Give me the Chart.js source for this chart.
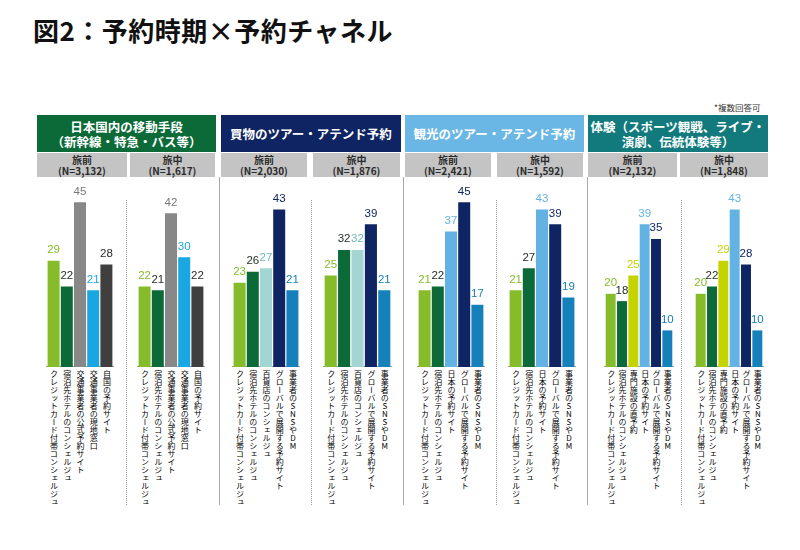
<!DOCTYPE html>
<html>
<head>
<meta charset="utf-8">
<script src="https://cdn.jsdelivr.net/npm/chart.js@4.4.0/dist/chart.umd.min.js"></script>
<style>
body { margin: 0; background: #fff; font-family: "Noto Sans CJK JP", "Noto Sans", sans-serif; }
#wrap { position: relative; width: 800px; height: 550px; overflow: hidden; }
.abs { position: absolute; }
.title { left: 33px; top: 12px; font-size: 26px; font-weight: bold; color: #111; line-height: 36px; letter-spacing: 0.5px; }
.note { left: 714px; top: 101px; font-size: 8.5px; color: #333; }
.head { display: flex; align-items: center; justify-content: center; text-align: center;
        color: #fff; font-weight: bold; font-size: 12.5px; line-height: 15px; }
.sub { display: flex; align-items: center; justify-content: center; text-align: center;
       background: #c4c4c4; color: #2a2a2a; font-weight: bold; font-size: 10px; line-height: 11.5px; }
.vlab { writing-mode: vertical-rl; text-orientation: upright; font-size: 8px; line-height: 10px;
        width: 10px; color: #000; font-weight: normal; white-space: nowrap; }
.sep { width: 0; border-left: 1px solid #a8a8a8; }
.dot { width: 0; border-left: 1.5px dotted #999; }
</style>
</head>
<body>
<div id="wrap"></div>
<script>
// カテゴリ
const groupTitles = ['日本国内の移動手段<br>（新幹線・特急・バス等）', '買物のツアー・アテンド予約',
                     '観光のツアー・アテンド予約', '体験（スポーツ観戦、ライブ・<br>演劇、伝統体験等）'];
const groupColors = ['#0b6a37', '#0f2462', '#6ab6e4', '#127a7c'];
const beforeN = ['3,132', '2,030', '2,421', '2,132'];
const duringN = ['1,617', '1,876', '1,592', '1,848'];

const labelsMove = ['クレジットカード付帯コンシェルジュ', '宿泊先ホテルのコンシェルジュ', '交通事業者の公式予約サイト', '交通事業者の現地窓口', '自国の予約サイト'];
const labelsShop = ['クレジットカード付帯コンシェルジュ', '宿泊先ホテルのコンシェルジュ', '百貨店のコンシェルジュ', 'グローバルで展開する予約サイト', '事業者のSNSやDM'];
const labelsSight = ['クレジットカード付帯コンシェルジュ', '宿泊先ホテルのコンシェルジュ', '日本の予約サイト', 'グローバルで展開する予約サイト', '事業者のSNSやDM'];
const labelsExp = ['クレジットカード付帯コンシェルジュ', '宿泊先ホテルのコンシェルジュ', '専門施設の直予約', '日本の予約サイト', 'グローバルで展開する予約サイト', '事業者のSNSやDM'];

// 値 (%)
const moveBefore = [29, 22, 45, 21, 28];
const moveDuring = [22, 21, 42, 30, 22];
const shopBefore = [23, 26, 27, 43, 21];
const shopDuring = [25, 32, 32, 39, 21];
const sightBefore = [21, 22, 37, 45, 17];
const sightDuring = [21, 27, 43, 39, 19];
const expBefore = [20, 18, 25, 39, 35, 10];
const expDuring = [20, 22, 29, 43, 28, 10];

// 色
const colorsMove = ['#86bb2a', '#0b6a37', '#888888', '#1aa6e0', '#3f3f3f'];
const colorsShop = ['#86bb2a', '#0b6a37', '#a3d6d2', '#0f2462', '#1580ba'];
const colorsSight = ['#86bb2a', '#0b6a37', '#62b3e4', '#0f2462', '#1580ba'];
const colorsExp = ['#86bb2a', '#0b6a37', '#c5d300', '#62b3e4', '#0f2462', '#1580ba'];
const textMove = ['#86bb2a', '#1f2a22', '#777777', '#1aa6e0', '#2a2a2a'];
const textShop = ['#86bb2a', '#1f2a22', '#6cbab4', '#0f2462', '#1580ba'];
const textSight = ['#86bb2a', '#1f2a22', '#62b3e4', '#0f2462', '#1580ba'];
const textExp = ['#86bb2a', '#1f2a22', '#c5d300', '#62b3e4', '#0f2462', '#1580ba'];

const wrap = document.getElementById('wrap');
function addDiv(cls, css, html) {
    let d = document.createElement('div');
    d.className = 'abs ' + cls;
    Object.assign(d.style, css);
    d.innerHTML = html;
    wrap.appendChild(d);
    return d;
}

addDiv('title', {}, '図2：予約時期×予約チャネル');
addDiv('note', {}, '*複数回答可');

const groupX = [[37, 216], [221, 401], [405, 584], [588, 768]];
const subX = [[37, 127], [130, 215], [221, 307], [313, 400], [405, 491], [497, 583], [588, 677], [680, 768]];
groupX.forEach((g, i) => {
    addDiv('head', {left: g[0] + 'px', top: '115px', width: (g[1] - g[0]) + 'px', height: '37px', background: groupColors[i]}, groupTitles[i]);
    addDiv('sub', {left: subX[i * 2][0] + 'px', top: '153px', width: (subX[i * 2][1] - subX[i * 2][0]) + 'px', height: '24px'}, '旅前<br>(N=' + beforeN[i] + ')');
    addDiv('sub', {left: subX[i * 2 + 1][0] + 'px', top: '153px', width: (subX[i * 2 + 1][1] - subX[i * 2 + 1][0]) + 'px', height: '24px'}, '旅中<br>(N=' + duringN[i] + ')');
});
[219, 403, 587].forEach(x => addDiv('sep', {left: x + 'px', top: '177px', height: '328px'}, ''));
[126, 311, 496, 681].forEach(x => addDiv('dot', {left: x + 'px', top: '200px', height: '305px'}, ''));

const valueLabels = {
    id: 'valueLabels',
    afterDatasetsDraw(chart) {
        const ctx = chart.ctx;
        const ds = chart.data.datasets[0];
        ctx.save();
        ctx.font = '11.5px "Liberation Sans", Arial, sans-serif';
        ctx.textAlign = 'center';
        ctx.textBaseline = 'bottom';
        chart.getDatasetMeta(0).data.forEach((bar, i) => {
            ctx.fillStyle = ds.textColors[i];
            ctx.fillText(ds.data[i], bar.x, bar.y - 5);
        });
        ctx.restore();
    }
};

const panels = [
    {x: 45, pitch: 13.2, bw: 12, labels: labelsMove, values: moveBefore, colors: colorsMove, text: textMove},
    {x: 136, pitch: 13.2, bw: 12, labels: labelsMove, values: moveDuring, colors: colorsMove, text: textMove},
    {x: 231, pitch: 13.2, bw: 12, labels: labelsShop, values: shopBefore, colors: colorsShop, text: textShop},
    {x: 322, pitch: 13.3, bw: 12, labels: labelsShop, values: shopDuring, colors: colorsShop, text: textShop},
    {x: 416, pitch: 13.2, bw: 12, labels: labelsSight, values: sightBefore, colors: colorsSight, text: textSight},
    {x: 507, pitch: 13.2, bw: 12, labels: labelsSight, values: sightDuring, colors: colorsSight, text: textSight},
    {x: 603, pitch: 11.4, bw: 10, labels: labelsExp, values: expBefore, colors: colorsExp, text: textExp},
    {x: 693, pitch: 11.4, bw: 10, labels: labelsExp, values: expDuring, colors: colorsExp, text: textExp}
];

const chartTop = 170;
panels.forEach(p => {
    let w = Math.round(p.labels.length * p.pitch + 4);
    let h = 197;
    let cv = document.createElement('canvas');
    cv.width = w; cv.height = h;
    cv.className = 'abs';
    Object.assign(cv.style, {left: p.x + 'px', top: chartTop + 'px', width: w + 'px', height: h + 'px'});
    wrap.appendChild(cv);
    let chart = new Chart(cv, {
        type: 'bar',
        data: {
            labels: p.labels,
            datasets: [{
                data: p.values,
                backgroundColor: p.colors,
                textColors: p.text,
                borderWidth: 0,
                categoryPercentage: 1,
                barPercentage: p.bw / p.pitch
            }]
        },
        options: {
            responsive: false,
            animation: false,
            devicePixelRatio: 1,
            layout: {padding: {top: 14, left: 2, right: 2, bottom: 0}},
            plugins: {legend: {display: false}, tooltip: {enabled: false}},
            scales: {
                x: {
                    grid: {display: false, drawTicks: false},
                    ticks: {display: false},
                    border: {display: true, color: '#9c9c9c', width: 2}
                },
                y: {display: false, min: 0, max: 50}
            }
        },
        plugins: [valueLabels]
    });
    let xs = chart.scales.x;
    p.labels.forEach((lab, i) => {
        let cx = p.x + xs.getPixelForValue(i);
        addDiv('vlab', {left: (cx - 5) + 'px', top: '370px'}, lab);
    });
});
</script>
</body>
</html>
